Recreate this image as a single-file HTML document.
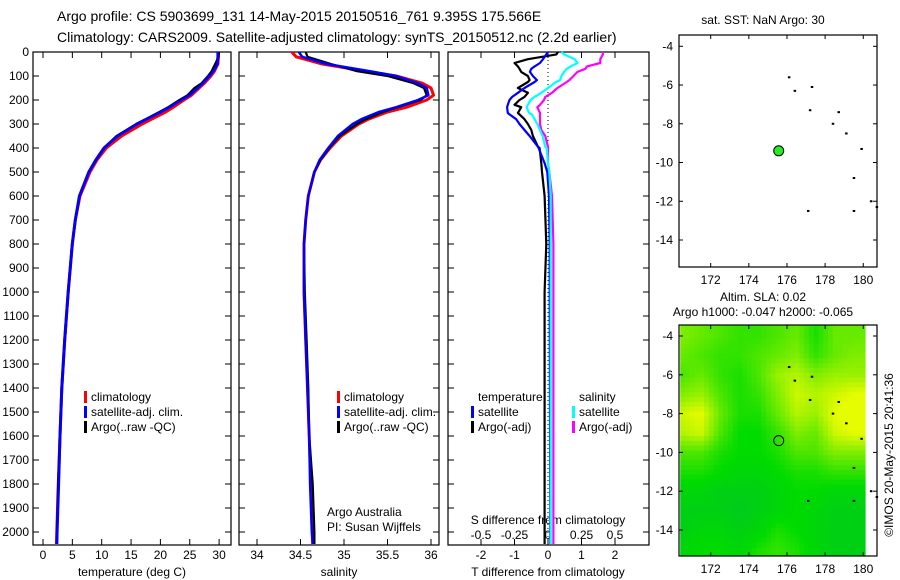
<!DOCTYPE html>
<html><head><meta charset="utf-8">
<style>
html,body{margin:0;padding:0;background:#fff;}
svg{display:block;font-family:"Liberation Sans",sans-serif;}
</style></head>
<body>
<svg id="chart" width="900" height="580" viewBox="0 0 900 580" xmlns="http://www.w3.org/2000/svg">
<text x="57" y="21" font-size="14">Argo profile: CS 5903699_131 14-May-2015 20150516_761 9.395S 175.566E</text>
<text x="57" y="42" font-size="14">Climatology: CARS2009. Satellite-adjusted climatology: synTS_20150512.nc (2.2d earlier)</text>
<text x="763" y="24" font-size="12" text-anchor="middle">sat. SST: NaN Argo: 30</text>
<text x="763" y="301" font-size="12" text-anchor="middle">Altim. SLA: 0.02</text>
<text x="763" y="316" font-size="12" text-anchor="middle">Argo h1000: -0.047 h2000: -0.065</text>
<text transform="translate(893,455) rotate(-90)" font-size="12" text-anchor="middle">©IMOS 20-May-2015 20:41:36</text>
<g id="g"></g>
</svg>
<script>
// ---- Data ----
const depthTicks=[0,100,200,300,400,500,600,700,800,900,1000,1100,1200,1300,1400,1500,1600,1700,1800,1900,2000];
const tempTicks=[0,5,10,15,20,25,30];
const salTicks=[34,34.5,35,35.5,36];
const tdiffTicks=[-2,-1,0,1,2];
const sdiffTicks=[-0.5,-0.25,0,0.25,0.5];
const depths=[0,20,50,80,100,130,150,180,200,230,250,280,300,350,400,450,500,600,700,800,1000,1200,1400,1600,1800,2000,2050];
const tempClim=[29.9,29.9,29.8,29.2,28.6,27.5,26.6,25.3,24.0,22.2,20.9,18.5,16.9,13.4,10.8,9.2,8.0,6.3,5.5,5.0,4.3,3.7,3.2,2.9,2.6,2.35,2.3];
const tempSat=[29.8,29.8,29.7,29.0,28.3,27.2,26.3,24.9,23.5,21.5,20.0,17.6,16.0,12.7,10.4,9.0,7.8,6.2,5.5,5.0,4.3,3.7,3.2,2.9,2.65,2.4,2.35];
const tempArgo=[30.0,29.9,29.3,28.7,28.1,27.0,25.8,24.6,23.2,21.3,19.8,17.5,15.9,12.5,10.4,9.0,7.8,6.2,5.5,5.0,4.3,3.7,3.2,2.9,2.55,2.4,2.4];
const salClim=[34.40,34.45,34.75,35.25,35.6,35.9,36.0,36.03,35.95,35.72,35.5,35.28,35.17,34.97,34.84,34.73,34.66,34.59,34.56,34.54,34.54,34.56,34.58,34.6,34.62,34.64,34.64];
const salSat=[34.48,34.52,34.8,35.3,35.6,35.85,35.95,35.97,35.85,35.6,35.4,35.2,35.1,34.93,34.82,34.72,34.66,34.59,34.56,34.54,34.54,34.56,34.58,34.6,34.61,34.63,34.64];
const salArgo=[34.56,34.58,34.85,35.15,35.5,35.8,35.92,35.95,35.88,35.62,35.45,35.25,35.15,34.95,34.83,34.73,34.66,34.59,34.56,34.54,34.55,34.57,34.59,34.6,34.64,34.66,34.66];
const dDepths=[0,10,30,46,60,70,83,100,117,125,150,170,187,200,220,230,254,260,280,300,325,350,395,400,463,500,600,800,1000,1500,2000,2050];
const tdSat=[0,-0.05,-0.15,-0.24,-0.4,-0.5,-0.54,-0.45,-0.33,-0.4,-0.7,-0.9,-1.07,-1.15,-1.2,-1.22,-1.2,-1.15,-0.95,-0.85,-0.7,-0.55,-0.3,-0.28,-0.1,-0.02,0.03,0.05,0.05,0.06,0.07,0.07];
const tdArgo=[0.3,0.25,-0.6,-1.0,-0.9,-0.85,-0.8,-0.6,-0.55,-0.6,-0.9,-0.6,-0.7,-0.85,-1.0,-0.8,-0.9,-0.85,-0.7,-0.6,-0.5,-0.45,-0.3,-0.25,-0.2,-0.18,-0.1,-0.05,-0.1,-0.1,-0.1,-0.1];
const sdSat=[0.1,0.12,0.2,0.22,0.17,0.14,0.12,0.1,0.09,0.06,0,-0.05,-0.1,-0.13,-0.15,-0.16,-0.14,-0.12,-0.1,-0.08,-0.06,-0.04,-0.02,-0.01,0,0.01,0.02,0.02,0.02,0.02,0.02,0.02];
const sdArgo=[0.41,0.41,0.39,0.39,0.29,0.28,0.22,0.19,0.16,0.14,0.07,0.03,-0.02,-0.03,-0.06,-0.08,-0.06,-0.06,-0.06,-0.06,-0.05,-0.02,0,0,0,0.01,0.03,0.04,0.04,0.04,0.04,0.04];
const lonTicks=[172,174,176,178,180];
const latTicks=[-4,-6,-8,-10,-12,-14];
const argoLon=175.566, argoLat=-9.395;
const dotLons=[176.1,176.4,177.3,177.2,178.7,178.4,179.1,179.9,179.5,180.4,180.7,177.1,179.5];
const dotLats=[-5.6,-6.3,-6.1,-7.3,-7.4,-8.0,-8.5,-9.3,-10.8,-12.0,-12.3,-12.5,-12.5];
const slaLats=[-4,-5,-6,-7,-8,-9,-10,-11,-12,-13,-14,-15];
const slaLons=[170.5,171.5,172.5,173.5,174.5,175.5,176.5,177.5,178.5,179.5];
const sla=[
[.65,.6,.55,.5,.5,.55,.6,.45,.6,.6],
[.6,.55,.5,.5,.55,.6,.65,.5,.6,.65],
[.55,.6,.5,.45,.55,.7,.75,.65,.7,.7],
[.65,.7,.55,.45,.5,.65,.8,.75,.8,.85],
[.8,.85,.6,.45,.45,.6,.75,.7,.85,.9],
[.75,.8,.55,.4,.4,.5,.65,.6,.8,.85],
[.55,.55,.45,.4,.4,.45,.55,.55,.65,.65],
[.45,.45,.4,.35,.35,.4,.45,.45,.5,.5],
[.35,.35,.3,.3,.3,.35,.4,.4,.35,.35],
[.3,.3,.3,.25,.3,.35,.4,.35,.3,.3],
[.3,.35,.35,.3,.35,.45,.4,.35,.3,.3],
[.35,.4,.4,.35,.45,.5,.45,.35,.3,.3]];

// ---- helpers ----
const NS="http://www.w3.org/2000/svg";
const G=document.getElementById('g');
function mk(tag,attrs,parent){const e=document.createElementNS(NS,tag);for(const k in attrs)e.setAttribute(k,attrs[k]);(parent||G).appendChild(e);return e;}
function txt(s,x,y,anchor,size){const t=mk('text',{x:x,y:y,'font-size':size||12,'text-anchor':anchor||'start'});t.textContent=s;return t;}
const yD=d=>52+d*0.24;
const xT=t=>43+t*5.87;
const xS=s=>257+(s-34)*87;
const xTD=v=>548+v*33.5;
const xSD=v=>548+v*134;
function series(xs,xf,color,name,w,ds){
  const pts=xs.map((v,i)=>xf(v).toFixed(1)+','+yD((ds||depths)[i]).toFixed(1)).join(' ');
  const p=mk('polyline',{points:pts,fill:'none',stroke:color,'stroke-width':w||2.5,'stroke-linejoin':'round'});
  
  
}
function frame(x0,x1,y0,y1,name){
  const r=mk('rect',{x:x0,y:y0,width:x1-x0,height:y1-y0,fill:'none',stroke:'#000','stroke-width':1.2});
  
  
}
function xticks(vals,f,y0,y1,labels,ly){
  vals.forEach((v,i)=>{const x=f(v);mk('line',{x1:x,x2:x,y1:y1,y2:y1-6,stroke:'#000'});mk('line',{x1:x,x2:x,y1:y0,y2:y0+6,stroke:'#000'});
    if(labels){const t=txt(labels[i],x,ly,'middle');}});
}
function yticks(vals,f,x0,x1,labels,lx){
  vals.forEach((v,i)=>{const y=f(v);mk('line',{x1:x0,x2:x0+6,y1:y,y2:y,stroke:'#000'});mk('line',{x1:x1,x2:x1-6,y1:y,y2:y,stroke:'#000'});
    if(labels){const t=txt(labels[i],lx,y+4,'end');}});
}
const B=545;
// Panel 1
frame(33,231,52,B,'temperature-panel');
yticks(depthTicks,yD,33,231,depthTicks.map(String),29);
xticks(tempTicks,xT,52,B,tempTicks.map(String),559);
let t=txt('temperature (deg C)',132,576,'middle');

series(tempClim,xT,'#f00','temp-climatology-line',3);
series(tempSat,xT,'#00f','temp-satellite-line',3);
series(tempArgo,xT,'#000','temp-argo-line',2);
series(tempSat,xT,'#00f','temp-satellite-line-top',2.2);
// Panel 2
frame(239,439,52,B,'salinity-panel');
yticks(depthTicks,yD,239,439);
xticks(salTicks,xS,52,B,['34','34.5','35','35.5','36'],559);
t=txt('salinity',339,576,'middle');

series(salClim,xS,'#f00','sal-climatology-line',3);
series(salArgo,xS,'#000','sal-argo-line',2.2);
series(salSat,xS,'#00f','sal-satellite-line',2.5);
t=txt('Argo Australia',327,516);
t=txt('PI: Susan Wijffels',327,531);
// Panel 3
frame(448,649,52,B,'difference-panel');
yticks(depthTicks,yD,448,649);
xticks(tdiffTicks,xTD,52,B,tdiffTicks.map(String),559);
sdiffTicks.forEach((v,i)=>{const tt=txt(['-0.5','-0.25','0','0.25','0.5'][i],xSD(v),539,'middle');});
t=txt('S difference from climatology',548,524,'middle');
t=txt('T difference from climatology',548,576,'middle');
mk('line',{x1:548,x2:548,y1:52,y2:B,stroke:'#000','stroke-dasharray':'1,3'});
series(tdArgo,xTD,'#000','tdiff-argo-line',2.2,dDepths);
series(tdSat,xTD,'#00f','tdiff-satellite-line',2.2,dDepths);
series(sdArgo,xSD,'#f0f','sdiff-argo-line',2.2,dDepths);
series(sdSat,xSD,'#0ff','sdiff-satellite-line',2.2,dDepths);
// Legends
function legend(x,y,items,name){
  items.forEach((it,i)=>{
    if(it[1])mk('rect',{x:x,y:y+i*15-10,width:3,height:12,fill:it[1]});
    const tt=txt(it[0],x+7,y+i*15);
    
    
  });
}
legend(84,401,[['climatology','#f00'],['satellite-adj. clim.','#00f'],['Argo(..raw -QC)','#000']],'temp-legend');
legend(337,401,[['climatology','#f00'],['satellite-adj. clim.','#00f'],['Argo(..raw -QC)','#000']],'sal-legend');
legend(471,401,[['temperature',null],['satellite','#00f'],['Argo(-adj)','#000']],'tdiff-legend');
legend(572,401,[['salinity',null],['satellite','#0ff'],['Argo(-adj)','#f0f']],'sdiff-legend');
// Maps
const xL=l=>710.7+(l-172)*19.07;
function slaAt(lo,la){
  let fc=(lo-170.5), fr=(-4-la);
  fc=Math.max(0,Math.min(slaLons.length-1.001,fc)); fr=Math.max(0,Math.min(slaLats.length-1.001,fr));
  const c=Math.floor(fc),r=Math.floor(fr),a=fc-c,b=fr-r;
  return sla[r][c]*(1-a)*(1-b)+sla[r][c+1]*a*(1-b)+sla[r+1][c]*(1-a)*b+sla[r+1][c+1]*a*b;
}
function slaColor(v){
  let R,Gc,Bc;
  if(v<0.4){const f=v/0.4;R=0;Gc=175+45*f;Bc=80-80*f;}
  else{const f=Math.min(1,(v-0.4)/0.45);R=230*f;Gc=220+32*f;Bc=0;}
  return `rgb(${R|0},${Gc|0},${Bc|0})`;
}
function map(top,bot,yl,name,heat){
  const M=mk('g',{});
  
  
  if(heat){
    const step=0.25;
    for(let la=-3.4;la>-15.4;la-=step){
      for(let lo=170.4;lo<180.1;lo+=step){
        const x0=xL(lo),x1=Math.min(865,xL(lo+step));
        const y0=Math.max(top,yl(la)),y1=Math.min(555,yl(la-step));
        if(x1>x0&&y1>y0){
          const cell=mk('rect',{x:x0.toFixed(1),y:y0.toFixed(1),width:(x1-x0+0.6).toFixed(1),height:(y1-y0+0.6).toFixed(1),fill:slaColor(slaAt(lo+step/2,la-step/2))},M);
          
          
        }
      }
    }
  }
  dotLons.forEach((lo,i)=>{const d=mk('rect',{x:xL(lo)-1,y:yl(dotLats[i])-1,width:2.5,height:2,fill:'#000'},M);
    });
  const c=mk('circle',{cx:xL(argoLon),cy:yl(argoLat),r:5,fill:heat?'none':'#2e2','stroke':'#000','stroke-width':1},M);
  
  
  frame(679,877,top,bot,name+'-frame');
  lonTicks.forEach(l=>{const x=xL(l);mk('line',{x1:x,x2:x,y1:top,y2:top+4,stroke:'#000'});mk('line',{x1:x,x2:x,y1:bot,y2:bot-4,stroke:'#000'});
    const tt=txt(String(l),x,bot+17,'middle');});
  latTicks.forEach(l=>{const y=yl(l);mk('line',{x1:679,x2:683,y1:y,y2:y,stroke:'#000'});mk('line',{x1:877,x2:873,y1:y,y2:y,stroke:'#000'});
    const tt=txt(String(l),673,y+4,'end');});
}
map(35,267,l=>46.3+(-4-l)*19.37,'sst-map',false);
map(325,556,l=>336+(-4-l)*19.4,'sla-map',true);
</script>
</body></html>
